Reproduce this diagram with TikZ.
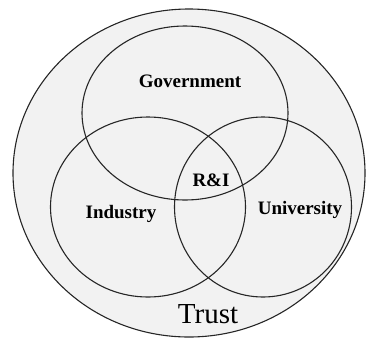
\documentclass[tikz,border=0pt]{standalone}
\usepackage{fontspec}
\setmainfont{Liberation Serif}
\usetikzlibrary{shapes.geometric,positioning}
\definecolor{trustgray}{HTML}{F2F2F2}

\begin{document}
\begin{tikzpicture}[x=1pt,y=-1pt,
   set/.style={ellipse,draw=black!85,line width=1.1pt,inner sep=0pt},
   lbl/.style={font=\fontsize{19}{21}\selectfont\bfseries}]
   \useasboundingbox (0,0) rectangle (367,338);
   \node[set,fill=trustgray,minimum width=352pt,minimum height=328pt] (trust) at (189,173) {};
   \node[set,minimum width=206pt,minimum height=174pt] (gov) at (185,113) {};
   \node[set,minimum width=195pt,minimum height=180pt] (ind) at (148,207) {};
   \node[set,minimum width=177pt,minimum height=180pt] (uni) at (263,207) {};
   \node[lbl] (gov_l) at (190,81) {Government};
   \node[lbl] (ind_l) at (121,214) {Industry};
   \node[lbl] (uni_l) at (300,210) {University};
   \node[lbl] (ri_l) at (211,180) {R\&I};
   \node[font=\fontsize{29}{31}\selectfont] (trust_l) at (208,314) {Trust};
\end{tikzpicture}
\end{document}
